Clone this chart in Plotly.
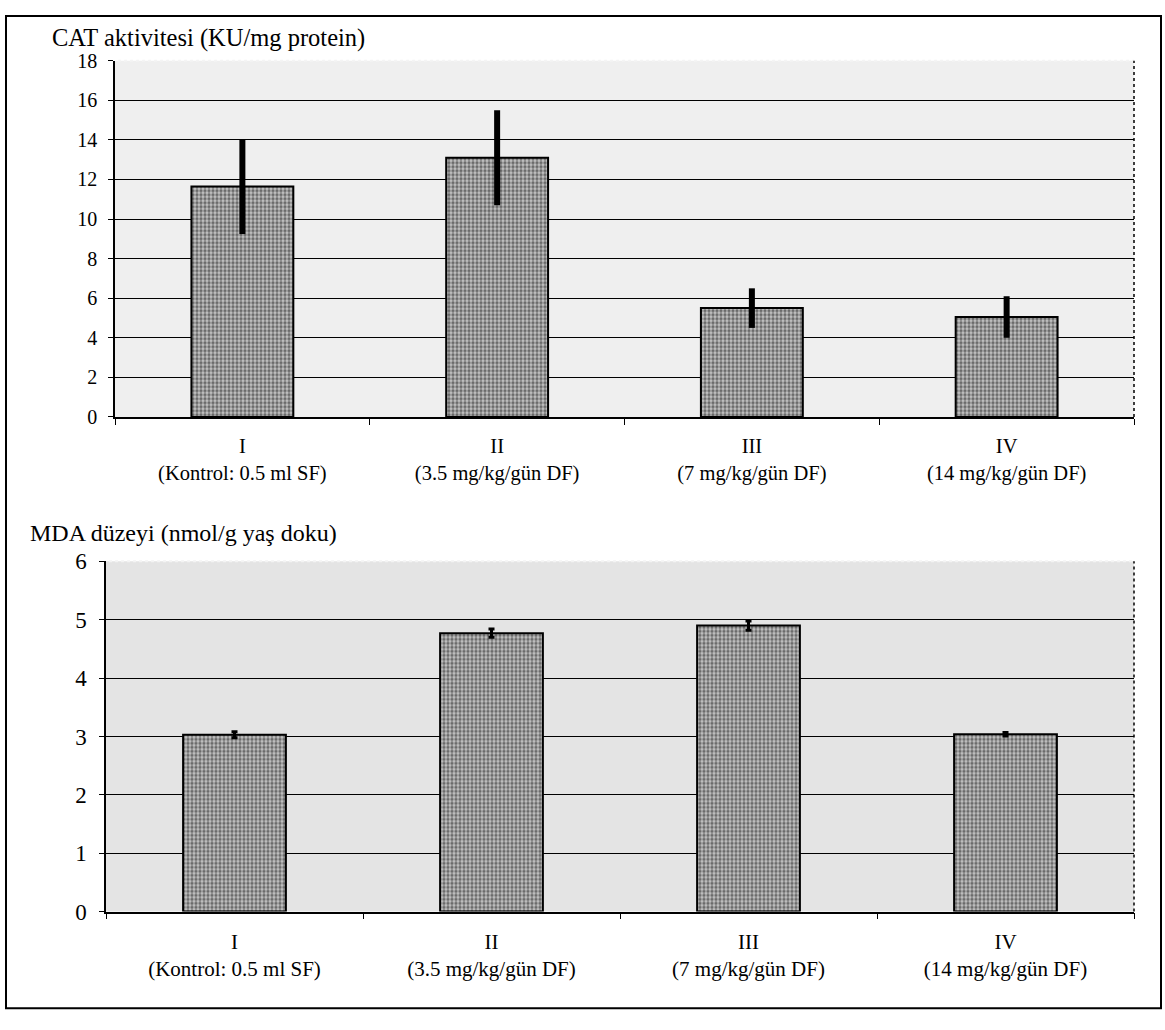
import plotly.graph_objects as go

W, H = 1165, 1030

roman = ["I", "II", "III", "IV"]
groups = ["(Kontrol: 0.5 ml SF)", "(3.5 mg/kg/gün DF)", "(7 mg/kg/gün DF)", "(14 mg/kg/gün DF)"]

cat_mean = [11.65, 13.1, 5.5, 5.05]
cat_sd = [2.4, 2.4, 1.0, 1.05]

mda_mean = [3.03, 4.77, 4.9, 3.04]
mda_sd = [0.05, 0.07, 0.08, 0.03]

cat_title = "CAT aktivitesi (KU/mg protein)"
mda_title = "MDA düzeyi (nmol/g yaş doku)"

cat_ticks = [0, 2, 4, 6, 8, 10, 12, 14, 16, 18]
mda_ticks = [0, 1, 2, 3, 4, 5, 6]

labels = [f"{r}<br>{g}" for r, g in zip(roman, groups)]
FONT = "Liberation Serif"


def px_x(p):
    return p / W


def px_y(p):
    return 1 - p / H


bar_style = dict(
    color="#9a9a9a",
    line=dict(color="black", width=2),
    pattern=dict(shape=".", fgcolor="#111111", bgcolor="#c4c4c4", size=4, solidity=0.55),
)

fig = go.Figure()
fig.add_trace(go.Bar(
    x=labels, y=cat_mean, xaxis="x", yaxis="y", width=0.4,
    marker=bar_style,
    error_y=dict(type="data", array=cat_sd, color="black", thickness=6, width=0),
    showlegend=False,
))
fig.add_trace(go.Bar(
    x=labels, y=mda_mean, xaxis="x2", yaxis="y2", width=0.4,
    marker=bar_style,
    error_y=dict(type="data", array=mda_sd, color="black", thickness=3, width=3),
    showlegend=False,
))

xcommon = dict(
    type="category", showgrid=False, showline=True, linecolor="black", linewidth=1.5,
    ticks="outside", tickson="boundaries", ticklen=6, tickcolor="black",
    zeroline=False,
)
ycommon = dict(
    showgrid=True, gridcolor="black", gridwidth=1, showline=True, linecolor="black",
    linewidth=1.5, ticks="outside", ticklen=5, tickcolor="black", zeroline=False,
)

fig.update_layout(
    width=W, height=H, autosize=False,
    margin=dict(l=0, r=0, t=0, b=0),
    paper_bgcolor="white", plot_bgcolor="rgba(0,0,0,0)",
    bargap=0.6,
    xaxis=dict(domain=[px_x(115), px_x(1134)], anchor="y", ticklabelstandoff=10,
               tickfont=dict(family=FONT, size=20.5, color="black"), **xcommon),
    yaxis=dict(domain=[px_y(415), px_y(50)], anchor="x", range=[0, 18], tickvals=cat_ticks,
               tickfont=dict(family=FONT, size=20, color="black"), ticklabelstandoff=7, **ycommon),
    xaxis2=dict(domain=[px_x(106), px_x(1134)], anchor="y2", ticklabelstandoff=10,
                tickfont=dict(family=FONT, size=21, color="black"), **xcommon),
    yaxis2=dict(domain=[px_y(922), px_y(563)], anchor="x2", range=[0, 6], tickvals=mda_ticks,
                tickfont=dict(family=FONT, size=23, color="black"), ticklabelstandoff=8, **ycommon),
)

shapes = [
    dict(type="rect", xref="x domain", yref="y domain", x0=0, x1=1, y0=0, y1=1,
         fillcolor="#efefef", line=dict(width=0), layer="below"),
    dict(type="rect", xref="x2 domain", yref="y2 domain", x0=0, x1=1, y0=0, y1=1,
         fillcolor="#e4e4e4", line=dict(width=0), layer="below"),
    # break the top gridline into a dotted border
    dict(type="line", xref="x domain", yref="y domain", x0=0.003, x1=1, y0=1, y1=1,
         line=dict(color="#f4f4f4", width=2, dash="dot")),
    dict(type="line", xref="x2 domain", yref="y2 domain", x0=0.003, x1=1, y0=1, y1=1,
         line=dict(color="#f4f4f4", width=2, dash="dot")),
    dict(type="line", xref="x domain", yref="y domain", x0=1, x1=1, y0=0, y1=1,
         line=dict(color="black", width=1.5, dash="dot")),
    dict(type="line", xref="x2 domain", yref="y2 domain", x0=1, x1=1, y0=0, y1=1,
         line=dict(color="black", width=1.5, dash="dot")),
    dict(type="rect", xref="paper", yref="paper", x0=px_x(6), x1=px_x(1161),
         y0=px_y(1021), y1=px_y(4), line=dict(color="black", width=2), fillcolor="rgba(0,0,0,0)"),
]
fig.update_layout(shapes=shapes)

fig.add_annotation(text=cat_title, xref="paper", yref="paper", x=px_x(50), y=px_y(27),
                   xanchor="left", yanchor="middle", showarrow=False,
                   font=dict(family=FONT, size=24.5, color="black"))
fig.add_annotation(text=mda_title, xref="paper", yref="paper", x=px_x(28), y=px_y(534),
                   xanchor="left", yanchor="middle", showarrow=False,
                   font=dict(family=FONT, size=24, color="black"))

fig.write_html("out.html")
